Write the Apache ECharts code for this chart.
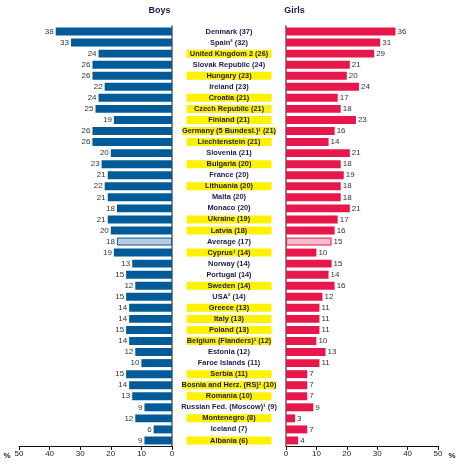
<!DOCTYPE html>
<html><head><meta charset="utf-8">
<script src="https://cdn.jsdelivr.net/npm/echarts@6/dist/echarts.min.js"></script>
<style>html,body{margin:0;padding:0;background:#fff}#c{width:460px;height:464px}</style>
</head><body><div id="c"></div>
<script>
const countries = ["Denmark (37)","Spain² (32)","United Kingdom 2 (26)","Slovak Republic (24)","Hungary (23)","Ireland (23)","Croatia (21)","Czech Republic (21)","Finland (21)","Germany (5 Bundesl.)¹ (21)","Liechtenstein (21)","Slovenia (21)","Bulgaria (20)","France (20)","Lithuania (20)","Malta (20)","Monaco (20)","Ukraine (19)","Latvia (18)","Average (17)","Cyprus¹ (14)","Norway (14)","Portugal (14)","Sweden (14)","USA² (14)","Greece (13)","Italy (13)","Poland (13)","Belgium (Flanders)¹ (12)","Estonia (12)","Faroe Islands (11)","Serbia (11)","Bosnia and Herz. (RS)¹ (10)","Romania (10)","Russian Fed. (Moscow)¹ (9)","Montenegro (8)","Iceland (7)","Albania (6)"];
const boys  = [38,33,24,26,26,22,24,25,19,26,26,20,23,21,22,21,18,21,20,18,19,13,15,12,15,14,14,15,14,12,10,15,14,13,9,12,6,9];
const girls = [36,31,29,21,20,24,17,18,23,16,14,21,18,19,18,18,21,17,16,15,10,15,14,16,12,11,11,11,10,13,11,7,7,7,9,3,7,4];
const highlighted = ["United Kingdom 2 (26)","Hungary (23)","Croatia (21)","Czech Republic (21)","Finland (21)","Germany (5 Bundesl.)¹ (21)","Liechtenstein (21)","Bulgaria (20)","Lithuania (20)","Ukraine (19)","Latvia (18)","Cyprus¹ (14)","Sweden (14)","Greece (13)","Italy (13)","Poland (13)","Belgium (Flanders)¹ (12)","Serbia (11)","Bosnia and Herz. (RS)¹ (10)","Romania (10)","Montenegro (8)","Albania (6)"];
const averageName = "Average (17)";

const FONT = '"Liberation Sans", Arial, sans-serif';
const BLUE = '#005b98', RED = '#e8174b';

function mk(vals, color, light) {
  return vals.map((v,i)=> countries[i]===averageName
    ? {value:v, itemStyle:{color:light, borderColor:color, borderWidth:1}}
    : v);
}

const chart = echarts.init(document.getElementById('c'));
const xCommon = {
  type:'value', min:0, max:50, interval:10,
  axisLine:{show:true, lineStyle:{color:'#111', width:1}},
  axisTick:{show:true, length:4, lineStyle:{color:'#111'}},
  axisLabel:{fontFamily:FONT, fontSize:8, color:'#222', margin:4},
  splitLine:{show:false}
};
const base = {height:8, lineHeight:8, align:'center', fontFamily:FONT, fontSize:7.4, fontWeight:'bold', color:'#1c1c4e'};
const rich = {
  hl:Object.assign({backgroundColor:'#fff200', width:85}, base),
  hlw:Object.assign({backgroundColor:'#fff200', width:93}, base),
  n:Object.assign({width:85}, base)
};
chart.setOption({
  animation:false,
  grid:[
    {left:19, right:288, top:26, bottom:18},
    {left:286, right:22, top:26, bottom:18}
  ],
  xAxis:[
    Object.assign({gridIndex:0, inverse:true}, xCommon),
    Object.assign({gridIndex:1}, xCommon)
  ],
  yAxis:[
    {type:'category', gridIndex:0, data:countries, inverse:true, position:'right',
     axisLine:{show:true, lineStyle:{color:'#888', width:2}}, axisTick:{show:false},
     axisLabel:{show:true, interval:0, align:'center', margin:57, rich:rich,
       formatter:(v)=> highlighted.indexOf(v)>=0 ? (v.length>24? '{hlw|'+v+'}' : '{hl|'+v+'}') : '{n|'+v+'}'}},
    {type:'category', gridIndex:1, data:countries, inverse:true, position:'left',
     axisLine:{show:true, lineStyle:{color:'#888', width:2}}, axisTick:{show:false},
     axisLabel:{show:false}}
  ],
  series:[
    {type:'bar', xAxisIndex:0, yAxisIndex:0, data:mk(boys, BLUE, '#b9cbe3'), barCategoryGap:'28%',
     itemStyle:{color:BLUE},
     label:{show:true, position:'left', distance:2, fontFamily:FONT, fontSize:8, color:'#333'}},
    {type:'bar', xAxisIndex:1, yAxisIndex:1, data:mk(girls, RED, '#f7bccb'), barCategoryGap:'28%',
     itemStyle:{color:RED},
     label:{show:true, position:'right', distance:2, fontFamily:FONT, fontSize:8, color:'#333'}}
  ],
  graphic:[
    {type:'text', x:159.5, y:11, style:{text:'Boys', font:'bold 9px '+FONT, fill:'#1c1c4e', textAlign:'center', textVerticalAlign:'middle'}},
    {type:'text', x:294.5, y:11, style:{text:'Girls', font:'bold 9px '+FONT, fill:'#1c1c4e', textAlign:'center', textVerticalAlign:'middle'}},
    {type:'text', x:7, y:456, style:{text:'%', font:'bold 8px '+FONT, fill:'#222', textAlign:'center', textVerticalAlign:'middle'}},
    {type:'text', x:452, y:456, style:{text:'%', font:'bold 8px '+FONT, fill:'#222', textAlign:'center', textVerticalAlign:'middle'}}
  ]
});
</script></body></html>
